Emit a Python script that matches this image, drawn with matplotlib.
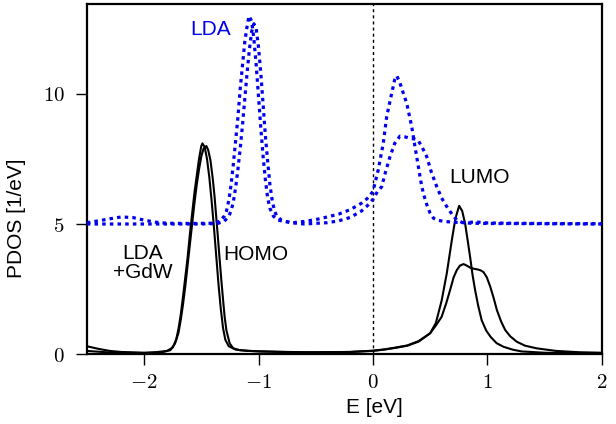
import numpy as np
import matplotlib
matplotlib.use("Agg")
import matplotlib.pyplot as plt

plt.rcParams['font.family'] = ['Liberation Sans', 'DejaVu Sans']
plt.rcParams['mathtext.fontset'] = 'cm'

# ── PDOS curves (E in eV, PDOS in 1/eV) ──
# LDA curves are drawn with an offset of +5

# LDA+GdW, curve 1 (single LUMO peak)
gw1_e = [-2.5, -2.4, -2.3, -2.2, -2.0, -1.9, -1.8, -1.75, -1.72, -1.70, -1.68, -1.66,
         -1.64, -1.62, -1.60, -1.58, -1.56, -1.54, -1.52, -1.50, -1.49, -1.47, -1.45,
         -1.43, -1.41, -1.39, -1.37, -1.35, -1.33, -1.31, -1.29, -1.26, -1.2, -1.1,
         -0.8, -0.5, -0.2, 0.0, 0.1, 0.2, 0.3, 0.4, 0.5, 0.55, 0.6, 0.645, 0.69, 0.72,
         0.753, 0.78, 0.806, 0.83, 0.85, 0.87, 0.893, 0.92, 0.95, 0.99, 1.03, 1.08,
         1.14, 1.22, 1.3, 1.5, 2.0]
gw1_p = [0.30, 0.20, 0.12, 0.08, 0.05, 0.07, 0.12, 0.25, 0.55, 0.95, 1.5, 2.2,
         2.95, 3.7, 4.6, 5.4, 6.2, 6.85, 7.5, 8.0, 8.1, 7.95, 7.5,
         6.8, 5.9, 4.9, 3.8, 2.7, 1.75, 1.0, 0.55, 0.3, 0.17, 0.12,
         0.08, 0.06, 0.08, 0.13, 0.18, 0.25, 0.33, 0.5, 0.8, 1.2, 2.05, 3.1, 4.4, 5.2,
         5.7, 5.5, 5.0, 4.3, 3.7, 3.05, 2.45, 1.85, 1.3, 0.9, 0.65, 0.42,
         0.28, 0.17, 0.1, 0.05, 0.02]

# LDA+GdW, curve 2 (split LUMO peak)
gw2_e = [-2.5, -2.3, -2.0, -1.85, -1.77, -1.73, -1.70, -1.68, -1.66, -1.64, -1.62,
         -1.60, -1.58, -1.56, -1.54, -1.52, -1.50, -1.48, -1.456, -1.44, -1.42,
         -1.40, -1.384, -1.37, -1.355, -1.34, -1.325, -1.31, -1.296, -1.28, -1.252,
         -1.22, -1.165, -1.0, -0.6, -0.2, 0.0, 0.1, 0.2, 0.3, 0.4, 0.5, 0.55, 0.60,
         0.64, 0.674, 0.705, 0.733, 0.76, 0.791, 0.82, 0.85, 0.88, 0.908, 0.94, 0.966,
         0.995, 1.025, 1.055, 1.083, 1.12, 1.156, 1.2, 1.258, 1.33, 1.43, 1.6, 1.8, 2.0]
gw2_p = [0.12, 0.06, 0.04, 0.06, 0.15, 0.4, 0.8, 1.3, 1.9, 2.6, 3.4,
         4.2, 5.0, 5.8, 6.5, 7.1, 7.6, 7.9, 8.0, 7.85, 7.45,
         6.75, 6.05, 5.3, 4.5, 3.65, 2.85, 2.1, 1.43, 0.9, 0.41,
         0.22, 0.15, 0.1, 0.07, 0.08, 0.12, 0.17, 0.24, 0.32, 0.48, 0.8, 1.1, 1.43,
         1.95, 2.46, 2.95, 3.23, 3.4, 3.46, 3.4, 3.32, 3.28, 3.26, 3.22, 3.15,
         2.95, 2.59, 2.15, 1.69, 1.25, 0.92, 0.68, 0.47, 0.32, 0.22, 0.12, 0.07, 0.05]

# LDA, curve 1 (single LUMO peak), already shifted by +5
lda1_e = [-2.5, -2.4, -2.3, -2.2, -2.1, -2.0, -1.9, -1.8, -1.6, -1.4, -1.34, -1.30,
          -1.28, -1.26, -1.24, -1.22, -1.20, -1.18, -1.16, -1.14, -1.12, -1.10,
          -1.083, -1.06, -1.04, -1.02, -1.00, -0.98, -0.96, -0.94, -0.92, -0.90,
          -0.87, -0.83, -0.78, -0.7, -0.6, -0.5, -0.4, -0.3, -0.2, -0.1, -0.05, 0.0,
          0.046, 0.09, 0.12, 0.164, 0.19, 0.207, 0.23, 0.26, 0.295, 0.339, 0.37,
          0.397, 0.42, 0.44, 0.47, 0.5, 0.53, 0.56, 0.62, 0.7, 0.8, 0.9, 1.0, 1.2,
          1.5, 2.0]
lda1_p = [5.05, 5.12, 5.2, 5.27, 5.25, 5.15, 5.07, 5.03, 5.02, 5.03, 5.1, 5.3,
          5.5, 5.9, 6.5, 7.3, 8.2, 9.1, 10.2, 11.1, 12.0, 12.6,
          13.0, 12.8, 12.1, 11.1, 9.9, 8.7, 7.6, 6.7, 6.0, 5.6,
          5.3, 5.15, 5.1, 5.05, 5.1, 5.17, 5.27, 5.38, 5.55, 5.8, 5.98, 6.25,
          7.08, 8.1, 9.13, 10.03, 10.55, 10.7, 10.5, 10.1, 9.64, 8.74, 7.9,
          7.2, 6.6, 6.18, 5.75, 5.41, 5.22, 5.15, 5.1, 5.07, 5.05, 5.08, 5.04, 5.03,
          5.02, 5.01]

# LDA, curve 2 (split LUMO peak), already shifted by +5
lda2_e = [-2.5, -2.0, -1.5, -1.36, -1.30, -1.26, -1.24, -1.22, -1.20, -1.18, -1.16,
          -1.14, -1.12, -1.10, -1.08, -1.06, -1.04, -1.02, -1.00, -0.98, -0.96,
          -0.94, -0.92, -0.90, -0.88, -0.86, -0.84, -0.80, -0.76, -0.72, -0.6, -0.4,
          -0.3, -0.2, -0.1, -0.05, 0.0, 0.04, 0.076, 0.11, 0.149, 0.19, 0.236, 0.28,
          0.32, 0.36, 0.397, 0.43, 0.47, 0.51, 0.558, 0.6, 0.645, 0.69, 0.733, 0.78,
          0.85, 1.0, 2.0]
lda2_p = [5.0, 5.0, 5.0, 5.02, 5.1, 5.3, 5.5, 5.85, 6.4, 7.1, 7.9,
          8.8, 9.8, 10.8, 11.7, 12.4, 12.7, 12.5, 11.8, 10.8, 9.6,
          8.4, 7.4, 6.5, 5.9, 5.5, 5.3, 5.15, 5.1, 5.05, 5.0, 5.05,
          5.12, 5.25, 5.5, 5.7, 5.95, 6.25, 6.43, 7.0, 7.59, 8.1, 8.38, 8.35,
          8.3, 8.27, 8.2, 7.95, 7.59, 7.0, 6.43, 6.0, 5.67, 5.38, 5.15, 5.06,
          5.03, 5.02, 5.0]

xticks = [-2, -1, 0, 1, 2]
yticks = [0, 5, 10]

fig = plt.figure(figsize=(6.16, 4.24), dpi=100)
ax = fig.add_axes([0.141, 0.165, 0.836, 0.8256])

ax.axvline(0, color='black', lw=1.0, ls=(0, (2.2, 2.2)), zorder=1)

for e, p in [(gw1_e, gw1_p), (gw2_e, gw2_p)]:
    ax.plot(e, p, color='black', lw=1.5, solid_joinstyle='round', zorder=2)
for e, p in [(lda1_e, lda1_p), (lda2_e, lda2_p)]:
    ax.plot(e, p, color='#0000ee', lw=2.3, ls=(0, (1.1, 1.3)),
            dash_capstyle='butt', zorder=3)

ax.text(-1.42, 12.48, 'LDA', color='#0000ee', fontsize=15, ha='center', va='center')
ax.text(-2.01, 3.5, 'LDA\n+GdW', color='black', fontsize=15, ha='center',
        va='center', linespacing=0.95)
ax.text(-1.02, 3.83, 'HOMO', color='black', fontsize=15, ha='center', va='center')
ax.text(0.93, 6.8, 'LUMO', color='black', fontsize=15, ha='center', va='center')

ax.set_xlim(-2.5, 2.0)
ax.set_ylim(0, 13.46)
ax.set_xticks(xticks)
ax.set_yticks(yticks)
ax.set_xticklabels([f'${v}$' for v in xticks])
ax.set_yticklabels([f'${v}$' for v in yticks])
ax.tick_params(direction='out', length=8, width=1.0, labelsize=15, pad=6)
ax.tick_params(axis='y', pad=8)
for s in ax.spines.values():
    s.set_linewidth(1.6)

ax.set_xlabel('E [eV]', fontsize=15)
ax.set_ylabel('PDOS [1/eV]', fontsize=15)
ax.xaxis.set_label_coords(0.559, -0.125)
ax.yaxis.set_label_coords(-0.118, 0.387)

plt.savefig('out.png', dpi=100)
plt.close()
